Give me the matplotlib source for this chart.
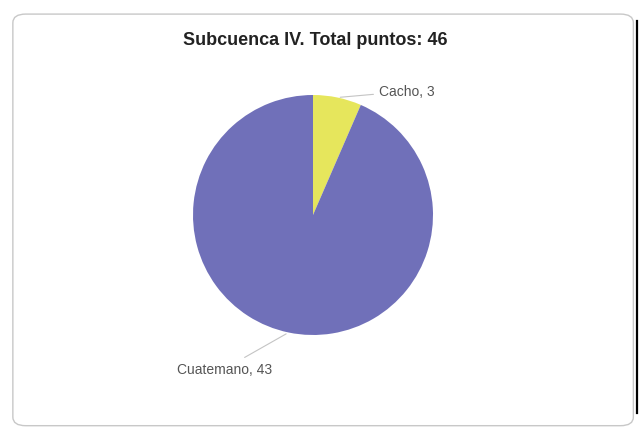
import numpy as np
import matplotlib.pyplot as plt
from matplotlib.patches import FancyBboxPatch

plt.rcParams['font.family'] = ['Liberation Sans', 'DejaVu Sans']

title = 'Subcuenca IV. Total puntos: 46'
categories = ['Cacho', 'Cuatemano']
counts = [3, 43]
colors = ['#e6e65c', '#7070b9']

fig = plt.figure(figsize=(6.43, 4.31), dpi=100)
fig.patch.set_facecolor('white')

# rounded frame around the chart
frame = FancyBboxPatch((0.02, 0.01), 0.965, 0.955, boxstyle='round,pad=0,rounding_size=0.02',
                       transform=fig.transFigure, facecolor='none', edgecolor='#c8c8c8', lw=1.0)
fig.patches.append(frame)
fig.add_artist(plt.Line2D([0.99, 0.99], [0.04, 0.95], transform=fig.transFigure, color='black', lw=1.6))

ax = fig.add_axes([133 / 643, 35 / 431, 360 / 643, 360 / 431])
wedges, _ = ax.pie(counts, colors=colors, startangle=90, counterclock=False, radius=1.0,
                   wedgeprops=dict(linewidth=0))
ax.set_xlim(-1.5, 1.5)
ax.set_ylim(-1.5, 1.5)
ax.set_aspect('equal')
ax.axis('off')

# labels with leader lines
for w, cat, n in zip(wedges, categories, counts):
    ang = np.deg2rad((w.theta1 + w.theta2) / 2)
    x0, y0 = np.cos(ang), np.sin(ang)
    if x0 > 0:
        tx, ty = 0.55, 1.03
    else:
        tx, ty = -1.13, -1.28
    ax.annotate(f'{cat}, {n}', xy=(x0, y0), xytext=(tx, ty), ha='left', va='center',
                fontsize=10, color='#555555',
                arrowprops=dict(arrowstyle='-', color='#c4c4c4', lw=0.8))

fig.text(0.49, 0.905, title, ha='center', va='center', fontsize=13, fontweight='bold', color='#222222')

fig.savefig('out.png', dpi=100)
